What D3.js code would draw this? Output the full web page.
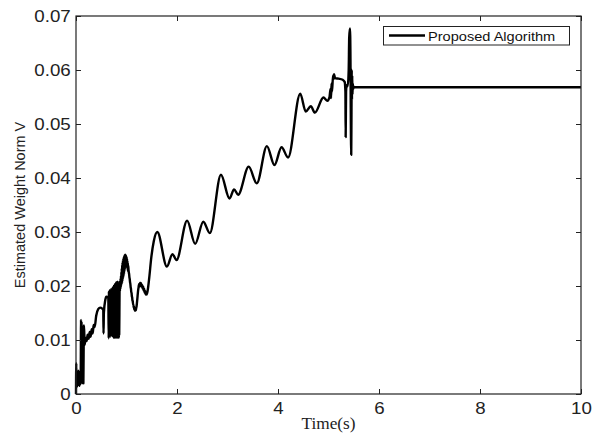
<!DOCTYPE html>
<html>
<head>
<meta charset="utf-8">
<script src="https://cdn.jsdelivr.net/npm/d3@7"></script>
<style>
  html, body { margin: 0; padding: 0; background: #fff; }
  svg { display: block; }
</style>
</head>
<body>
<svg id="chart" width="602" height="439"></svg>
<script>
// Time axis (s) and estimated weight norm V, one line per stretch of the run
const time = [
  0, 0.005, 0.012, 0.018, 0.025, 0.032, 0.04, 0.047, 0.055, 0.062, 0.07, 0.078, 0.086, 0.094,
  0.1, 0.104, 0.11, 0.115, 0.12, 0.13, 0.138, 0.146, 0.155, 0.16, 0.17, 0.19, 0.21, 0.23, 0.25,
  0.27, 0.29, 0.31, 0.33, 0.35, 0.37, 0.40, 0.44, 0.48, 0.52, 0.54, 0.545, 0.552, 0.58, 0.60, 0.64,
  0.648, 0.652, 0.656, 0.660, 0.664, 0.668, 0.672, 0.676, 0.680, 0.684, 0.688, 0.692, 0.696, 0.700,
  0.704, 0.708, 0.712, 0.716, 0.720, 0.724, 0.728, 0.732, 0.736, 0.740, 0.744, 0.748, 0.752, 0.756,
  0.760, 0.764, 0.768, 0.772, 0.776, 0.780, 0.784, 0.788, 0.792, 0.796, 0.800, 0.804, 0.808, 0.812,
  0.816, 0.820, 0.824, 0.828, 0.832, 0.836, 0.840, 0.844, 0.848, 0.852, 0.856,
  0.862, 0.866, 0.870, 0.874, 0.878, 0.882, 0.886, 0.890, 0.894, 0.898,
  0.902, 0.906, 0.910, 0.914, 0.918, 0.922, 0.926, 0.930, 0.934, 0.938,
  0.942, 0.946, 0.950, 0.954, 0.958, 0.962, 0.966, 0.970, 0.974, 0.978,
  0.982, 0.986, 0.990, 0.994, 0.998, 1.002, 1.006, 1.010, 1.014, 1.018,
  1.022, 1.026, 1.030, 1.034,
  1.040, 1.046, 1.052, 1.058, 1.064, 1.070, 1.076, 1.082, 1.088, 1.094, 1.100,
  1.106, 1.112, 1.118, 1.124, 1.130, 1.136, 1.142, 1.148, 1.154, 1.160,
  1.168, 1.176, 1.184, 1.192, 1.200,
  1.21, 1.22, 1.23, 1.24, 1.25, 1.26, 1.27, 1.28, 1.29, 1.30,
  1.31, 1.32, 1.33, 1.34, 1.35, 1.36, 1.37, 1.38, 1.39, 1.40,
  1.42, 1.45, 1.49, 1.54,
  1.61, 1.80, 1.91, 1.99, 2.20, 2.36, 2.52, 2.65, 2.87, 3.04, 3.13, 3.21,
  3.42, 3.58, 3.78, 3.93, 4.07, 4.20, 4.44, 4.55, 4.65, 4.73, 4.90, 4.98, 5.02, 5.04, 5.05,
  5.06, 5.07, 5.09, 5.10, 5.11, 5.13, 5.20, 5.28, 5.32, 5.335, 5.34, 5.348, 5.36, 5.38, 5.40,
  5.41, 5.425, 5.435, 5.44, 5.45, 5.455, 5.46, 5.465, 5.47, 5.475, 5.48, 5.49, 5.50, 5.52, 10
];
const weightNorm = [
  0, 0.0057, 0.0015, 0.0042, 0.0014, 0.0040, 0.0016, 0.0043, 0.0017, 0.0040, 0.0015, 0.0042, 0.0018, 0.0040,
  0.0137, 0.0020, 0.0134, 0.0022, 0.0125, 0.0020, 0.0038, 0.0020, 0.0125, 0.0127, 0.0091, 0.0104, 0.0098, 0.0110, 0.0102,
  0.0115, 0.0106, 0.0120, 0.0112, 0.0128, 0.0124, 0.0145, 0.0157, 0.0160, 0.0158, 0.0156, 0.0112, 0.0150, 0.0174, 0.0180, 0.0178,
  0.0103, 0.0190, 0.0106, 0.0192, 0.0108, 0.0189, 0.0110, 0.0188, 0.0106, 0.0193, 0.0109, 0.0194, 0.0111, 0.0191,
  0.0108, 0.0195, 0.0110, 0.0196, 0.0107, 0.0194, 0.0109, 0.0198, 0.0106, 0.0200, 0.0104, 0.0197, 0.0106, 0.0201,
  0.0105, 0.0203, 0.0104, 0.0200, 0.0106, 0.0204, 0.0105, 0.0206, 0.0104, 0.0205, 0.0106, 0.0207, 0.0105, 0.0204,
  0.0104, 0.0208, 0.0106, 0.0206, 0.0105, 0.0207, 0.0107, 0.0205, 0.0104, 0.0203, 0.0110,
  0.0185, 0.0205, 0.0190, 0.0210, 0.0194, 0.0214, 0.0197, 0.0219, 0.0200, 0.0226,
  0.0203, 0.0233, 0.0205, 0.0239, 0.0208, 0.0244, 0.0212, 0.0248, 0.0215, 0.0251,
  0.0218, 0.0254, 0.0222, 0.0256, 0.0226, 0.0257, 0.0230, 0.0258, 0.0234, 0.0258,
  0.0237, 0.0257, 0.0238, 0.0256, 0.0238, 0.0254, 0.0236, 0.0251, 0.0233, 0.0247,
  0.0230, 0.0243, 0.0227, 0.0238,
  0.0230, 0.0225, 0.0222, 0.0216, 0.0213, 0.0207, 0.0204, 0.0198, 0.0195, 0.0189, 0.0187,
  0.0181, 0.0179, 0.0173, 0.0172, 0.0166, 0.0166, 0.0160, 0.0162, 0.0156, 0.0159,
  0.0154, 0.0158, 0.0155, 0.0159, 0.0163,
  0.0172, 0.0182, 0.0192, 0.0198, 0.0204, 0.0199, 0.0206, 0.0200, 0.0205, 0.0198,
  0.0202, 0.0195, 0.0199, 0.0191, 0.0195, 0.0187, 0.0191, 0.0184, 0.0188, 0.0184,
  0.0192, 0.0215, 0.0252, 0.0283,
  0.0300, 0.0236, 0.0259, 0.0248, 0.0321, 0.0278, 0.0319, 0.0298, 0.0406, 0.0362, 0.0379, 0.0369,
  0.0421, 0.0390, 0.0459, 0.0424, 0.0457, 0.0438, 0.0556, 0.0523, 0.0533, 0.0521, 0.0549, 0.0543, 0.0550, 0.0565, 0.0548,
  0.0575, 0.0560, 0.0590, 0.0583, 0.0592, 0.0585, 0.0584, 0.0582, 0.0578, 0.0560, 0.0476, 0.0560, 0.0572, 0.0570, 0.0600,
  0.0660, 0.0677, 0.0620, 0.0540, 0.0443, 0.0520, 0.0600, 0.0545, 0.0590, 0.0555, 0.0575, 0.0565, 0.0569, 0.0568, 0.0568
];

const xTicks = [0, 2, 4, 6, 8, 10];
const xTickLabels = ["0", "2", "4", "6", "8", "10"];
const yTicks = [0, 0.01, 0.02, 0.03, 0.04, 0.05, 0.06, 0.07];
const yTickLabels = ["0", "0.01", "0.02", "0.03", "0.04", "0.05", "0.06", "0.07"];
const seriesName = "Proposed Algorithm";
const xTitle = "Time(s)";
const yTitle = "Estimated Weight Norm V";

const svg = d3.select("#chart");
const plotLeft = 76, plotRight = 581, plotTop = 16, plotBottom = 394;
const x = d3.scaleLinear().domain([0, 10]).range([plotLeft, plotRight]);
const y = d3.scaleLinear().domain([0, 0.07]).range([plotBottom, plotTop]);
const sans = "'Liberation Sans', Arial, Helvetica, sans-serif";
const stretch = "scale(1.17,1)";

// data line
const n = Math.min(time.length, weightNorm.length);
const pts = d3.range(n).map(i => [time[i], weightNorm[i]]);
svg.append("path")
  .datum(pts)
  .attr("fill", "none")
  .attr("stroke", "#000")
  .attr("stroke-width", 2.4)
  .attr("stroke-linejoin", "round")
  .attr("d", d3.line().x(d => x(d[0])).y(d => y(d[1])).curve(d3.curveMonotoneX));

// axes with inward ticks on all four sides
function styleAxis(g) {
  g.select(".domain").remove();
  g.selectAll(".tick line").attr("stroke", "#222").attr("stroke-width", 1);
  g.selectAll("text").attr("fill", "#222").style("font-family", sans).style("font-size", "16px");
}
const xFmt = (d, i) => xTickLabels[i];
const yFmt = (d, i) => yTickLabels[i];

svg.append("g").attr("transform", `translate(0,${plotBottom})`)
  .call(d3.axisBottom(x).tickValues(xTicks).tickFormat(xFmt).tickSizeInner(-5).tickSizeOuter(0).tickPadding(9))
  .call(styleAxis)
  .selectAll("text").attr("transform", stretch);
svg.append("g").attr("transform", `translate(0,${plotTop})`)
  .call(d3.axisTop(x).tickValues(xTicks).tickFormat("").tickSizeInner(-5).tickSizeOuter(0))
  .call(styleAxis);
svg.append("g").attr("transform", `translate(${plotLeft},0)`)
  .call(d3.axisLeft(y).tickValues(yTicks).tickFormat(yFmt).tickSizeInner(-5).tickSizeOuter(0).tickPadding(4.5))
  .call(styleAxis)
  .selectAll("text").attr("transform", stretch);
svg.append("g").attr("transform", `translate(${plotRight},0)`)
  .call(d3.axisRight(y).tickValues(yTicks).tickFormat("").tickSizeInner(-5).tickSizeOuter(0))
  .call(styleAxis);

// frame
svg.append("rect")
  .attr("x", plotLeft).attr("y", plotTop)
  .attr("width", plotRight - plotLeft).attr("height", plotBottom - plotTop)
  .attr("fill", "none").attr("stroke", "#222").attr("stroke-width", 1.2);

// axis titles
svg.append("text")
  .attr("transform", `translate(${(plotLeft + plotRight) / 2},429) scale(1.08,1)`)
  .attr("text-anchor", "middle")
  .style("font-family", "'Liberation Serif', 'DejaVu Serif', serif")
  .style("font-size", "16px")
  .attr("fill", "#222")
  .text(xTitle);
svg.append("text")
  .attr("transform", `translate(25,${(plotTop + plotBottom) / 2}) rotate(-90)`)
  .attr("text-anchor", "middle")
  .style("font-family", sans)
  .style("font-size", "14.5px")
  .attr("fill", "#222")
  .text(yTitle);

// legend
const lg = svg.append("g");
lg.append("rect")
  .attr("x", 383.5).attr("y", 26.5).attr("width", 186).attr("height", 18.5)
  .attr("fill", "#fff").attr("stroke", "#222").attr("stroke-width", 1);
lg.append("line")
  .attr("x1", 389).attr("x2", 425).attr("y1", 35.5).attr("y2", 35.5)
  .attr("stroke", "#000").attr("stroke-width", 2.4);
lg.append("text")
  .attr("transform", "translate(428,40.5) scale(1.08,1)")
  .style("font-family", sans)
  .style("font-size", "13.5px")
  .attr("fill", "#111")
  .text(seriesName);
</script>
</body>
</html>
